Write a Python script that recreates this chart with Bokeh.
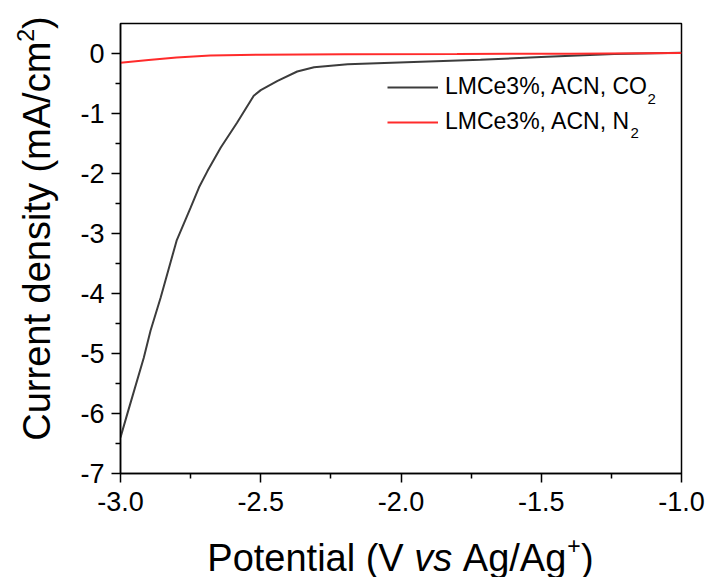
from bokeh.plotting import figure
from bokeh.models import Label, Legend, LegendItem, FixedTicker, PrintfTickFormatter, Range1d
from bokeh.layouts import row, column
from bokeh.embed import file_html
from bokeh.resources import INLINE
import math

# ---- data ----
co2_x = [-3.00, -2.976, -2.917, -2.893, -2.857, -2.80, -2.75, -2.72, -2.69, -2.643,
         -2.584, -2.525, -2.50, -2.44, -2.37, -2.31, -2.19, -1.955, -1.717, -1.48, -1.24, -1.00]
co2_y = [-6.40, -6.01, -5.07, -4.62, -4.07, -3.12, -2.57, -2.23, -1.96, -1.57,
         -1.15, -0.705, -0.61, -0.455, -0.30, -0.23, -0.18, -0.14, -0.105, -0.055, -0.01, 0.012]
n2_x = [-3.00, -2.90, -2.80, -2.68, -2.50, -2.20, -1.80, -1.40, -1.00]
n2_y = [-0.155, -0.11, -0.067, -0.035, -0.02, -0.012, -0.008, -0.003, 0.008]

x_ticks = [-3.0, -2.5, -2.0, -1.5, -1.0]
x_minor = [-2.75, -2.25, -1.75, -1.25]
y_ticks = [-7, -6, -5, -4, -3, -2, -1, 0]
y_minor = [-6.5, -5.5, -4.5, -3.5, -2.5, -1.5, -0.5]

legend_co2 = "LMCe3%, ACN, CO"
legend_n2 = "LMCe3%, ACN, N"

FONT = "Liberation Sans"

# ---------------- main plot ----------------
p = figure(width=635, height=522, output_backend="svg", toolbar_location=None,
           x_range=Range1d(-3.0, -1.0), y_range=Range1d(-7.0, 0.5),
           min_border_left=45, min_border_right=29, min_border_top=23, min_border_bottom=49)
p.xgrid.visible = False
p.ygrid.visible = False
p.outline_line_color = "black"
p.outline_line_width = 1.5
p.outline_line_alpha = 1.0
p.background_fill_color = "white"
p.border_fill_color = "white"

p.xaxis.ticker = FixedTicker(ticks=x_ticks, minor_ticks=x_minor)
p.yaxis.ticker = FixedTicker(ticks=y_ticks, minor_ticks=y_minor)
p.xaxis.formatter = PrintfTickFormatter(format="%.1f")
p.yaxis.formatter = PrintfTickFormatter(format="%d")
for ax in (p.xaxis[0], p.yaxis[0]):
    ax.axis_line_width = 1.5
    ax.axis_line_color = "black"
    ax.major_tick_line_width = 1.5
    ax.minor_tick_line_width = 1.5
    ax.major_tick_line_color = "black"
    ax.minor_tick_line_color = "black"
    ax.major_tick_in = 0
    ax.major_tick_out = 9
    ax.minor_tick_in = 0
    ax.minor_tick_out = 5
    ax.major_label_text_font = FONT
    ax.major_label_text_font_size = "27px"
    ax.major_label_text_color = "black"
p.xaxis.major_label_standoff = 9
p.yaxis.major_label_standoff = 7

r_co2 = p.line(co2_x, co2_y, line_color="#3c3c3c", line_width=2)
r_n2 = p.line(n2_x, n2_y, line_color="#ff2b2b", line_width=2)

legend = Legend(items=[LegendItem(label=legend_co2, renderers=[r_co2]),
                       LegendItem(label=legend_n2, renderers=[r_n2])],
                location=(267, 338), padding=0, margin=0, spacing=8,
                glyph_width=51, glyph_height=26, label_height=26, label_standoff=7,
                label_text_font=FONT, label_text_font_size="23px", label_text_color="black",
                border_line_alpha=0, background_fill_alpha=0)
p.add_layout(legend, "center")

# subscripts in legend
for xs, ys in [(527, 375), (510, 341)]:
    p.add_layout(Label(x=xs, y=ys, x_units="screen", y_units="screen", text="2",
                       text_font=FONT, text_font_size="15px", text_color="black",
                       text_baseline="alphabetic"))

# ---------------- x axis title (own strip below; frame aligned with main frame) ----------------
XF = 38
SUP = 23
xt = figure(width=635, height=55, output_backend="svg", toolbar_location=None,
            x_range=Range1d(0, 1), y_range=Range1d(0, 1), x_axis_type=None, y_axis_type=None,
            min_border=0)
xt.outline_line_color = None
xt.background_fill_color = "white"
xt.border_fill_color = "white"
wa = 5447 * XF / 1000          # "Potential (V" + space
wv = (1000 + 278) * XF / 1000  # "vs" + space
wg = 2724 * XF / 1000          # "Ag/Ag"
wp = 640 * SUP / 1000          # superscript "+"
wc = 333 * XF / 1000           # ")"
total = wa + wv + wg + wp + wc
x0 = 400 - 120 - total / 2
xb = 20
pieces = [
    (x0, xb, "Potential (V", "normal", XF),
    (x0 + wa, xb, "vs", "italic", XF),
    (x0 + wa + wv, xb, "Ag/Ag", "normal", XF),
    (x0 + wa + wv + wg + 1, xb + 12, "+", "normal", SUP),
    (x0 + wa + wv + wg + wp, xb, ")", "normal", XF),
]
for px_, py_, t, st, fs in pieces:
    xt.add_layout(Label(x=px_, y=py_, x_units="screen", y_units="screen", text=t,
                        text_font=FONT, text_font_style=st, text_font_size=f"{fs}px",
                        text_color="black", text_baseline="alphabetic", text_align="left"))

# ---------------- y axis title (own strip on the left) ----------------
YF = 38
yt = figure(width=75, height=577, output_backend="svg", toolbar_location=None,
            x_range=Range1d(0, 1), y_range=Range1d(0, 1), x_axis_type=None, y_axis_type=None,
            min_border=0)
yt.outline_line_color = None
yt.background_fill_color = "white"
yt.border_fill_color = "white"
v1 = 10502 * YF / 1000
v2 = 556 * SUP / 1000
v3 = 333 * YF / 1000
ycenter = 577 - 228
y0 = ycenter - (v1 + v2 + v3) / 2
yb = 36
ypieces = [
    (yb, y0, "Current density (mA/cm", YF),
    (yb - 11, y0 + v1, "2", SUP),
    (yb, y0 + v1 + v2, ")", YF),
]
for px_, py_, t, fs in ypieces:
    yt.add_layout(Label(x=px_, y=py_, x_units="screen", y_units="screen", text=t,
                        angle=math.pi / 2, text_font=FONT, text_font_size=f"{fs}px",
                        text_color="black", text_baseline="alphabetic", text_align="left"))

layout = row(yt, column(p, xt))
open("out.html", "w").write(file_html(layout, INLINE))
